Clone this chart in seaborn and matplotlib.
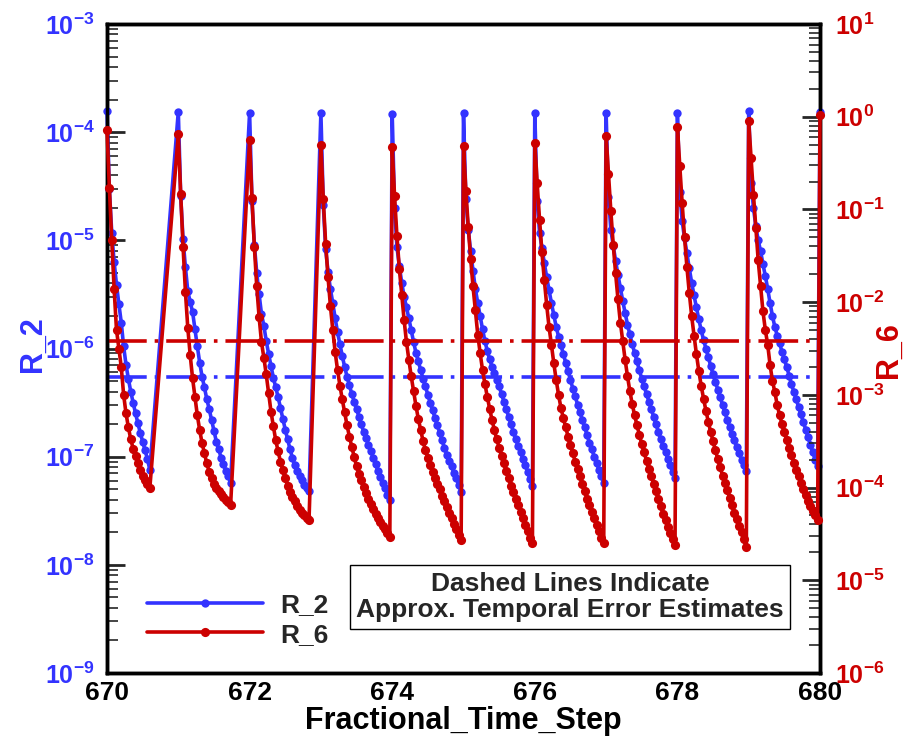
import numpy as np
import pandas as pd
import matplotlib
matplotlib.use("Agg")
import matplotlib.pyplot as plt
import seaborn as sns
from matplotlib.lines import Line2D
from matplotlib.ticker import LogLocator, FixedLocator, NullFormatter, MultipleLocator, FuncFormatter

# ---------------- data (log10 of residuals) ----------------
time_steps = [670, 671, 672, 673, 674, 675, 676, 677, 678, 679, 680]
subiters_per_step = 30  # fractional time step increments of 1/30

r2_670 = [-3.80, -4.53, -4.93, -5.20, -5.41, -5.59, -5.76, -5.98, -6.15, -6.28, -6.40, -6.50, -6.60,
          -6.69, -6.78, -6.86, -6.94, -7.02, -7.12]
r2_671 = [-3.81, -4.59, -4.99, -5.25, -5.47, -5.57, -5.66, -5.82, -5.98, -6.13, -6.26, -6.36, -6.47,
          -6.56, -6.66, -6.76, -6.86, -6.93, -7.01, -7.07, -7.13, -7.18, -7.24]
r2_672 = [-3.82, -4.64, -5.04, -5.30, -5.50, -5.68, -5.79, -5.93, -6.05, -6.16, -6.27, -6.36, -6.45,
          -6.55, -6.65, -6.75, -6.84, -6.93, -7.01, -7.08, -7.13, -7.18, -7.22, -7.26, -7.29, -7.32]
r2_673 = [-3.82, -4.67, -5.08, -5.29, -5.45, -5.58, -5.72, -5.85, -5.96, -6.07, -6.17, -6.26, -6.34,
          -6.42, -6.49, -6.56, -6.63, -6.70, -6.77, -6.83, -6.89, -6.95, -7.01, -7.07, -7.13, -7.19,
          -7.24, -7.29, -7.35, -7.40]
r2_674 = [-3.83, -4.70, -5.06, -5.24, -5.39, -5.52, -5.62, -5.72, -5.83, -5.94, -6.04, -6.12, -6.20,
          -6.28, -6.35, -6.43, -6.50, -6.57, -6.64, -6.71, -6.78, -6.85, -6.92, -6.98, -7.04, -7.09,
          -7.15, -7.20, -7.26, -7.33]
r2_675 = [-3.82, -4.62, -4.90, -5.10, -5.28, -5.45, -5.58, -5.70, -5.82, -5.93, -6.02, -6.10, -6.17,
          -6.23, -6.29, -6.35, -6.42, -6.49, -6.56, -6.63, -6.70, -6.77, -6.84, -6.90, -6.96, -7.02,
          -7.08, -7.14, -7.21, -7.27]
r2_676 = [-3.82, -4.64, -4.93, -5.07, -5.21, -5.34, -5.46, -5.58, -5.69, -5.80, -5.89, -5.97, -6.05,
          -6.13, -6.21, -6.29, -6.37, -6.44, -6.52, -6.59, -6.66, -6.73, -6.80, -6.87, -6.93, -7.00,
          -7.06, -7.12, -7.18, -7.24]
r2_677 = [-3.82, -4.60, -4.90, -5.05, -5.19, -5.32, -5.44, -5.56, -5.67, -5.78, -5.87, -5.96, -6.04,
          -6.12, -6.20, -6.28, -6.35, -6.42, -6.49, -6.56, -6.63, -6.70, -6.77, -6.84, -6.90, -6.96,
          -7.02, -7.08, -7.14, -7.20]
r2_678 = [-3.82, -4.55, -4.82, -4.98, -5.12, -5.26, -5.39, -5.51, -5.62, -5.73, -5.83, -5.92, -6.00,
          -6.08, -6.16, -6.24, -6.31, -6.38, -6.45, -6.52, -6.59, -6.66, -6.73, -6.79, -6.85, -6.91,
          -6.97, -7.03, -7.08, -7.13]
r2_679 = [-3.80, -4.47, -4.70, -4.87, -5.00, -5.10, -5.22, -5.33, -5.45, -5.58, -5.70, -5.80, -5.88,
          -5.95, -6.03, -6.10, -6.17, -6.25, -6.33, -6.40, -6.47, -6.54, -6.61, -6.68, -6.75, -6.82,
          -6.89, -6.96, -7.03, -7.09]
r2_680 = [-3.81]

r6_670 = [-0.14, -0.77, -1.33, -1.86, -2.30, -2.50, -2.70, -3.00, -3.20, -3.35, -3.48, -3.58, -3.66,
          -3.74, -3.81, -3.87, -3.92, -3.96, -4.01]
r6_671 = [-0.19, -0.83, -1.40, -1.89, -2.28, -2.57, -2.82, -3.02, -3.22, -3.38, -3.52, -3.63, -3.74,
          -3.83, -3.90, -3.96, -4.00, -4.04, -4.07, -4.10, -4.13, -4.16, -4.19]
r6_672 = [-0.25, -0.88, -1.40, -1.83, -2.16, -2.43, -2.60, -2.78, -2.98, -3.18, -3.34, -3.49, -3.61,
          -3.72, -3.81, -3.90, -3.98, -4.05, -4.10, -4.15, -4.20, -4.24, -4.27, -4.30, -4.33, -4.35]
r6_673 = [-0.30, -0.89, -1.37, -1.73, -2.04, -2.30, -2.54, -2.73, -2.90, -3.05, -3.19, -3.33, -3.45,
          -3.56, -3.67, -3.77, -3.85, -3.92, -3.99, -4.06, -4.12, -4.18, -4.23, -4.28, -4.33, -4.37,
          -4.41, -4.45, -4.49, -4.53]
r6_674 = [-0.33, -0.86, -1.29, -1.64, -1.92, -2.19, -2.43, -2.62, -2.80, -2.96, -3.12, -3.26, -3.38,
          -3.50, -3.60, -3.68, -3.76, -3.83, -3.90, -3.96, -4.02, -4.09, -4.15, -4.21, -4.27, -4.33,
          -4.39, -4.45, -4.51, -4.57]
r6_675 = [-0.32, -0.80, -1.19, -1.53, -1.83, -2.09, -2.35, -2.55, -2.73, -2.88, -3.02, -3.15, -3.27,
          -3.38, -3.48, -3.57, -3.66, -3.74, -3.82, -3.90, -3.98, -4.05, -4.12, -4.19, -4.26, -4.33,
          -4.40, -4.47, -4.54, -4.60]
r6_676 = [-0.28, -0.72, -1.11, -1.46, -1.76, -2.03, -2.27, -2.46, -2.66, -2.84, -3.00, -3.14, -3.25,
          -3.35, -3.45, -3.54, -3.63, -3.72, -3.80, -3.88, -3.96, -4.04, -4.12, -4.19, -4.26, -4.33,
          -4.40, -4.47, -4.54, -4.60]
r6_677 = [-0.21, -0.62, -1.02, -1.38, -1.69, -1.97, -2.22, -2.42, -2.62, -2.80, -2.96, -3.10, -3.22,
          -3.33, -3.43, -3.53, -3.62, -3.71, -3.80, -3.88, -3.96, -4.04, -4.12, -4.20, -4.28, -4.35,
          -4.42, -4.49, -4.56, -4.62]
r6_678 = [-0.11, -0.53, -0.93, -1.30, -1.62, -1.90, -2.15, -2.36, -2.56, -2.74, -2.90, -3.04, -3.17,
          -3.29, -3.40, -3.50, -3.60, -3.69, -3.78, -3.87, -3.95, -4.03, -4.11, -4.19, -4.27, -4.34,
          -4.41, -4.48, -4.56, -4.64]
r6_679 = [-0.05, -0.45, -0.84, -1.20, -1.55, -1.83, -2.10, -2.30, -2.46, -2.68, -2.85, -2.97, -3.11,
          -3.22, -3.31, -3.40, -3.49, -3.57, -3.65, -3.73, -3.81, -3.88, -3.95, -4.02, -4.08, -4.14,
          -4.20, -4.25, -4.30, -4.35]
r6_680 = [0.02]

r2_cycles = [r2_670, r2_671, r2_672, r2_673, r2_674, r2_675, r2_676, r2_677, r2_678, r2_679, r2_680]
r6_cycles = [r6_670, r6_671, r6_672, r6_673, r6_674, r6_675, r6_676, r6_677, r6_678, r6_679, r6_680]

# approximate temporal error estimates (dash-dot lines)
r2_error_estimate = 5.5e-7
r6_error_estimate = 3.8e-3

x_ticks = [670, 672, 674, 676, 678, 680]
series_names = ["R_2", "R_6"]
xlabel = "Fractional_Time_Step"
note_text = "Dashed Lines Indicate\nApprox. Temporal Error Estimates"

# ---------------- build table ----------------
rows = []
for step, c2, c6 in zip(time_steps, r2_cycles, r6_cycles):
    for k, (v2, v6) in enumerate(zip(c2, c6)):
        rows.append({"t": step + k / subiters_per_step, "R_2": 10.0 ** v2, "R_6": 10.0 ** v6})
df = pd.DataFrame(rows)

# ---------------- style ----------------
sns.set_style("white")
plt.rcParams["font.family"] = ["Liberation Sans", "DejaVu Sans"]
plt.rcParams["font.weight"] = "bold"
plt.rcParams["mathtext.fontset"] = "custom"
plt.rcParams["mathtext.bf"] = "Liberation Sans:bold"
plt.rcParams["mathtext.rm"] = "Liberation Sans:bold"
plt.rcParams["mathtext.default"] = "bf"

BLUE = "#3333ff"
RED = "#cc0000"
LW = 2.6
MS2, MS6 = 6.0, 6.6
DASH = (11, 2.2, 1.0, 2.2)

W, H = 913, 742
fig = plt.figure(figsize=(W / 100, H / 100), dpi=100)
L, R, T, B = 107, 820, 24, 673
ax = fig.add_axes([L / W, 1 - B / H, (R - L) / W, (B - T) / H])
ax2 = ax.twinx()

sns.lineplot(data=df, x="t", y="R_2", ax=ax, color=BLUE, lw=LW, marker="o", ms=MS2,
             mew=0, estimator=None, sort=False, clip_on=False, zorder=3)
ax.axhline(r2_error_estimate, color=BLUE, lw=LW, dashes=DASH, zorder=2)

sns.lineplot(data=df, x="t", y="R_6", ax=ax2, color=RED, lw=LW, marker="o", ms=MS6,
             mew=0, estimator=None, sort=False, clip_on=False, zorder=3)
ax2.axhline(r6_error_estimate, color=RED, lw=LW, dashes=DASH, zorder=2)

for a in (ax, ax2):
    a.set_yscale("log")
    for s in a.spines.values():
        s.set_linewidth(2.5)
        s.set_color("black")
ax.set_xlim(670, 680)
ax.set_ylim(1e-9, 1e-3)
ax2.set_ylim(1e-6, 1e1)

ax.xaxis.set_major_locator(FixedLocator(x_ticks))
ax.xaxis.set_minor_locator(MultipleLocator(0.5))
ax.yaxis.set_major_locator(LogLocator(base=10, numticks=20))
ax.yaxis.set_minor_locator(LogLocator(base=10, subs=np.arange(2, 10), numticks=20))
ax2.yaxis.set_major_locator(LogLocator(base=10, numticks=20))
ax2.yaxis.set_minor_locator(LogLocator(base=10, subs=np.arange(2, 10), numticks=20))
ax.yaxis.set_minor_formatter(NullFormatter())
ax2.yaxis.set_minor_formatter(NullFormatter())

fmt = FuncFormatter(lambda v, p: r"$\mathbf{10^{%d}}$" % int(round(np.log10(v))))
ax.yaxis.set_major_formatter(fmt)
ax2.yaxis.set_major_formatter(fmt)
ax.xaxis.set_major_formatter(FuncFormatter(lambda v, p: "%d" % v))

ax.tick_params(axis="x", which="major", direction="in", length=12, width=2, labelsize=19,
               pad=6, colors="black", top=False)
ax.tick_params(axis="x", which="minor", direction="in", length=7, width=1.2, top=False)
ax.tick_params(axis="y", which="major", direction="in", length=13, width=2, labelsize=18,
               pad=9, labelcolor=BLUE, right=False)
ax.tick_params(axis="y", which="minor", direction="in", length=8, width=1.2, right=False)
ax2.tick_params(axis="y", which="major", direction="in", length=13, width=2, labelsize=18,
                pad=11, labelcolor=RED, left=False)
ax2.tick_params(axis="y", which="minor", direction="in", length=8, width=1.2, left=False)
for lab in ax.get_xticklabels():
    lab.set_fontweight("bold")

for a in (ax, ax2):
    a.set_xlabel("")
    a.set_ylabel("")
    a.xaxis.label.set_visible(False)
    a.yaxis.label.set_visible(False)

fig.text(463 / W, 1 - 721 / H, xlabel, ha="center", va="center", fontsize=22,
         fontweight="bold", color="black")
fig.text(33 / W, 1 - 344 / H, series_names[0], ha="center", va="center", fontsize=22,
         fontweight="bold", color=BLUE, rotation=90)
fig.text(889 / W, 1 - 350 / H, series_names[1], ha="center", va="center", fontsize=22,
         fontweight="bold", color=RED, rotation=90)

if ax.get_legend() is not None:
    ax.get_legend().remove()
if ax2.get_legend() is not None:
    ax2.get_legend().remove()

handles = [Line2D([], [], color=BLUE, lw=LW, marker="o", ms=MS2, mew=0),
           Line2D([], [], color=RED, lw=LW, marker="o", ms=MS6, mew=0)]
leg = ax2.legend(handles, series_names, loc="center left",
                 bbox_to_anchor=(147 / W, 1 - 620 / H), bbox_transform=fig.transFigure,
                 frameon=False, handlelength=4.4, handletextpad=0.65, labelspacing=0.2,
                 prop={"family": "Liberation Sans", "weight": "bold", "size": 19},
                 borderaxespad=0, borderpad=0)

fig.text(570 / W, 1 - 597 / H, note_text, ha="center", va="center", fontsize=19,
         fontweight="bold", linespacing=1.1, family="Liberation Sans",
         bbox=dict(boxstyle="square,pad=0.25", fc="white", ec="black", lw=1.0), zorder=10)

fig.savefig("out.png", dpi=100)
